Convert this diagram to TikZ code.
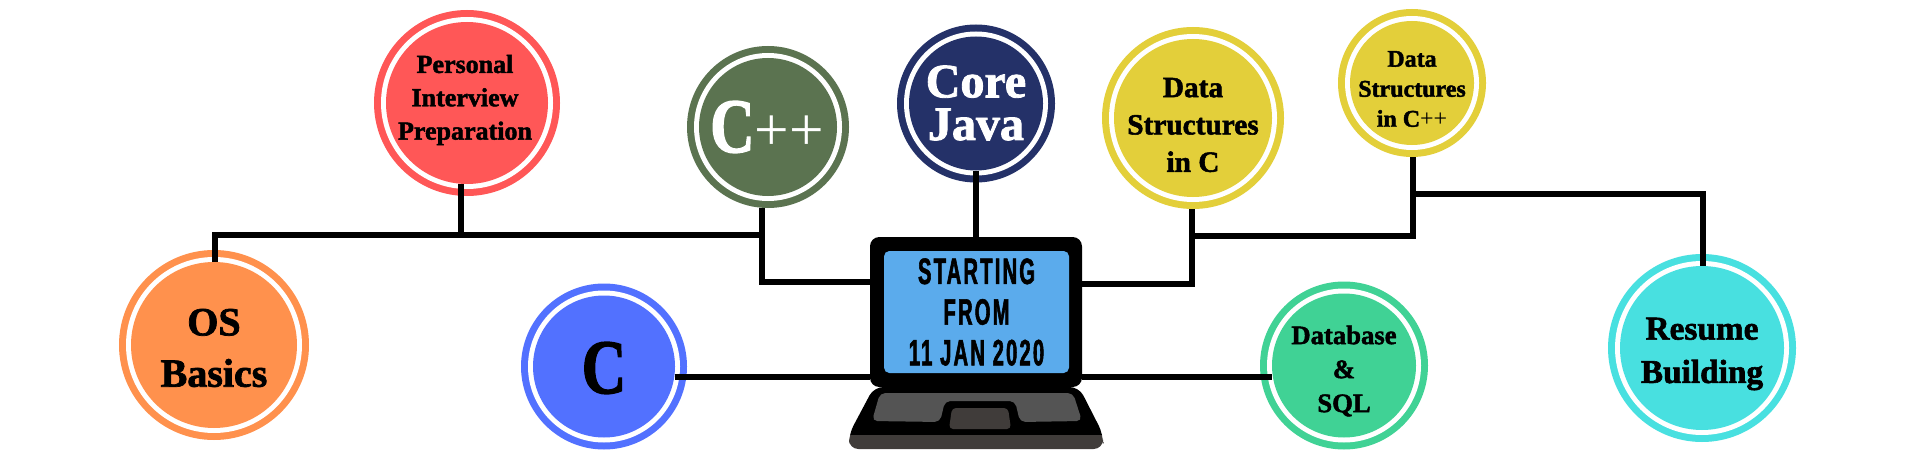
\documentclass[tikz,border=0pt]{standalone}
\usepackage{fontspec}
\setmainfont{Liberation Serif}
\newfontfamily\fat[FakeBold=1.8]{Liberation Serif Bold}
\newfontfamily\thinf{Liberation Serif}
\newfontfamily\cond[FakeStretch=0.55,FakeBold=1.5,LetterSpace=6]{Liberation Sans Bold}
\definecolor{cred}{HTML}{FF5757}
\definecolor{cgreen}{HTML}{5B7350}
\definecolor{cnavy}{HTML}{243168}
\definecolor{cyel}{HTML}{E3CF3A}
\definecolor{corange}{HTML}{FF914D}
\definecolor{cblue}{HTML}{5271FF}
\definecolor{cgrn}{HTML}{40D295}
\definecolor{ccyan}{HTML}{48E0E0}
\definecolor{cscreen}{HTML}{5BABEC}
\definecolor{ckey}{HTML}{545454}
\definecolor{cbase}{HTML}{403C3A}
\tikzset{x=0.75pt,y=-0.75pt,
 wire/.style={line width=4.4pt,black,line join=miter},
 disc/.style={circle,inner sep=0pt,outer sep=0pt},
 lbl/.style n args={2}{align=center,inner sep=0pt,font=\fat\fontsize{#1}{#2}\selectfont},
 lid/.style={fill=black,rounded corners=7pt,inner sep=0pt,outer sep=0pt,minimum width=159pt,minimum height=112.5pt},
 screen/.style={fill=cscreen,rounded corners=4pt,inner sep=0pt,outer sep=0pt,minimum width=138.75pt,minimum height=91.5pt,align=center,font=\cond\fontsize{27.5}{30.5}\selectfont},
}
\newcommand{\mk}[5]{%
 \node[disc,fill=#5,minimum size={#4*1.5pt}] (#1) at (#2,#3) {};
 \node[disc,fill=white,minimum size={(#4-7)*1.5pt}] (#1-w) at (#2,#3) {};
 \node[disc,fill=#5,minimum size={(#4-12)*1.5pt}] (#1-in) at (#2,#3) {};}
\begin{document}
\begin{tikzpicture}
\useasboundingbox (0,0) rectangle (1920,460);
\fill[white] (0,0) rectangle (1920,460);
% bubbles
\mk{pi}{467}{103}{93}{cred}
\mk{cpp}{768}{127}{81}{cgreen}
\mk{java}{976}{103.5}{79}{cnavy}
\mk{dsc}{1193}{118}{91}{cyel}
\mk{dscpp}{1412}{83}{74}{cyel}
\mk{os}{214}{345}{95}{corange}
\mk{c}{604}{366.5}{83}{cblue}
\mk{db}{1344}{365.5}{84}{cgrn}
\mk{res}{1702}{348}{94}{ccyan}
% laptop lid
\node[lid] (lap) at (976,312) {};
% junction coordinates
\coordinate (jos) at (215,235);
\coordinate (jpi) at (461,235);
\coordinate (jcpp) at (762,235);
\coordinate (lapL) at (870,282);
\coordinate (lapR) at (1082,284);
\coordinate (jdsc) at (1192,284);
\coordinate (jd2) at (1192,236);
\coordinate (jd3) at (1413,236);
\coordinate (jd4) at (1413,194);
\coordinate (jres) at (1703,194);
\coordinate (lapCL) at (870,377);
\coordinate (lapCR) at (1082,377);
% connectors
\draw[wire] (jos |- os-in.north) -- (jos) -- (jcpp) |- (lapL);
\draw[wire] (jpi |- pi-in.south) -- (jpi);
\draw[wire] (jcpp |- cpp.south) -- (jcpp);
\draw[wire] (java-in.south) -- (java-in.south |- lap.north);
\draw[wire] (jdsc |- dsc.south) -- (jdsc) -- (lapR);
\draw[wire] (jd2) -- (jd3) -- (jd3 |- dscpp.south);
\draw[wire] (jd4) -- (jres) -- (jres |- res-in.north);
\draw[wire] (c-in.east |- lapCL) -- (lapCL);
\draw[wire] (lapCR) -- (db-in.west |- lapCR);
% labels
\node[lbl={19.5}{25}] (pi-t) at (465,100) {Personal\\Interview\\Preparation};
\node[lbl={58}{60},text=white] (cpp-t) at (767,127) {\scalebox{0.8}[1]{C}\raisebox{1.5pt}{\thinf\fontsize{46}{48}\selectfont ++}};
\node[lbl={36}{32},text=white] (java-t) at (976,103) {Core\\Java};
\node[lbl={22}{28}] (dsc-t) at (1193,125) {Data\\Structures\\in C};
\node[lbl={18}{22.5}] (dscpp-t) at (1412,89) {Data\\Structures\\in C{\thinf ++}};
\node[lbl={30}{38.5}] (os-t) at (214,348) {OS\\Basics};
\node[lbl={58}{60}] (c-t) at (604,368) {\scalebox{0.8}[1]{C}};
\node[lbl={20}{25.5}] (db-t) at (1344,371) {Database\\\&\\SQL};
\node[lbl={25}{32.5}] (res-t) at (1702,354) {Resume\\Building};
% laptop base
\begin{scope}
\clip[rounded corners=7pt] (874,387) -- (1079,387) -- (1103,434) -- (1103,449) -- (849,449) -- (849,434) -- cycle;
\fill[black] (840,380) rectangle (1110,435);
\fill[cbase] (840,435) rectangle (1110,455);
\end{scope}
\fill[ckey,rounded corners=4pt] (880,393) -- (1073,393) -- (1082,421) -- (1020,422) -- (1015,401) -- (945,401) -- (940,422) -- (872,421) -- cycle;
\fill[cbase,rounded corners=3pt] (952,408) -- (1008,408) -- (1011,429) -- (949,429) -- cycle;
% screen
\node[screen] (scr) at (976.5,312) {STARTING\\FROM\\11 JAN 2020};
\end{tikzpicture}
\end{document}
